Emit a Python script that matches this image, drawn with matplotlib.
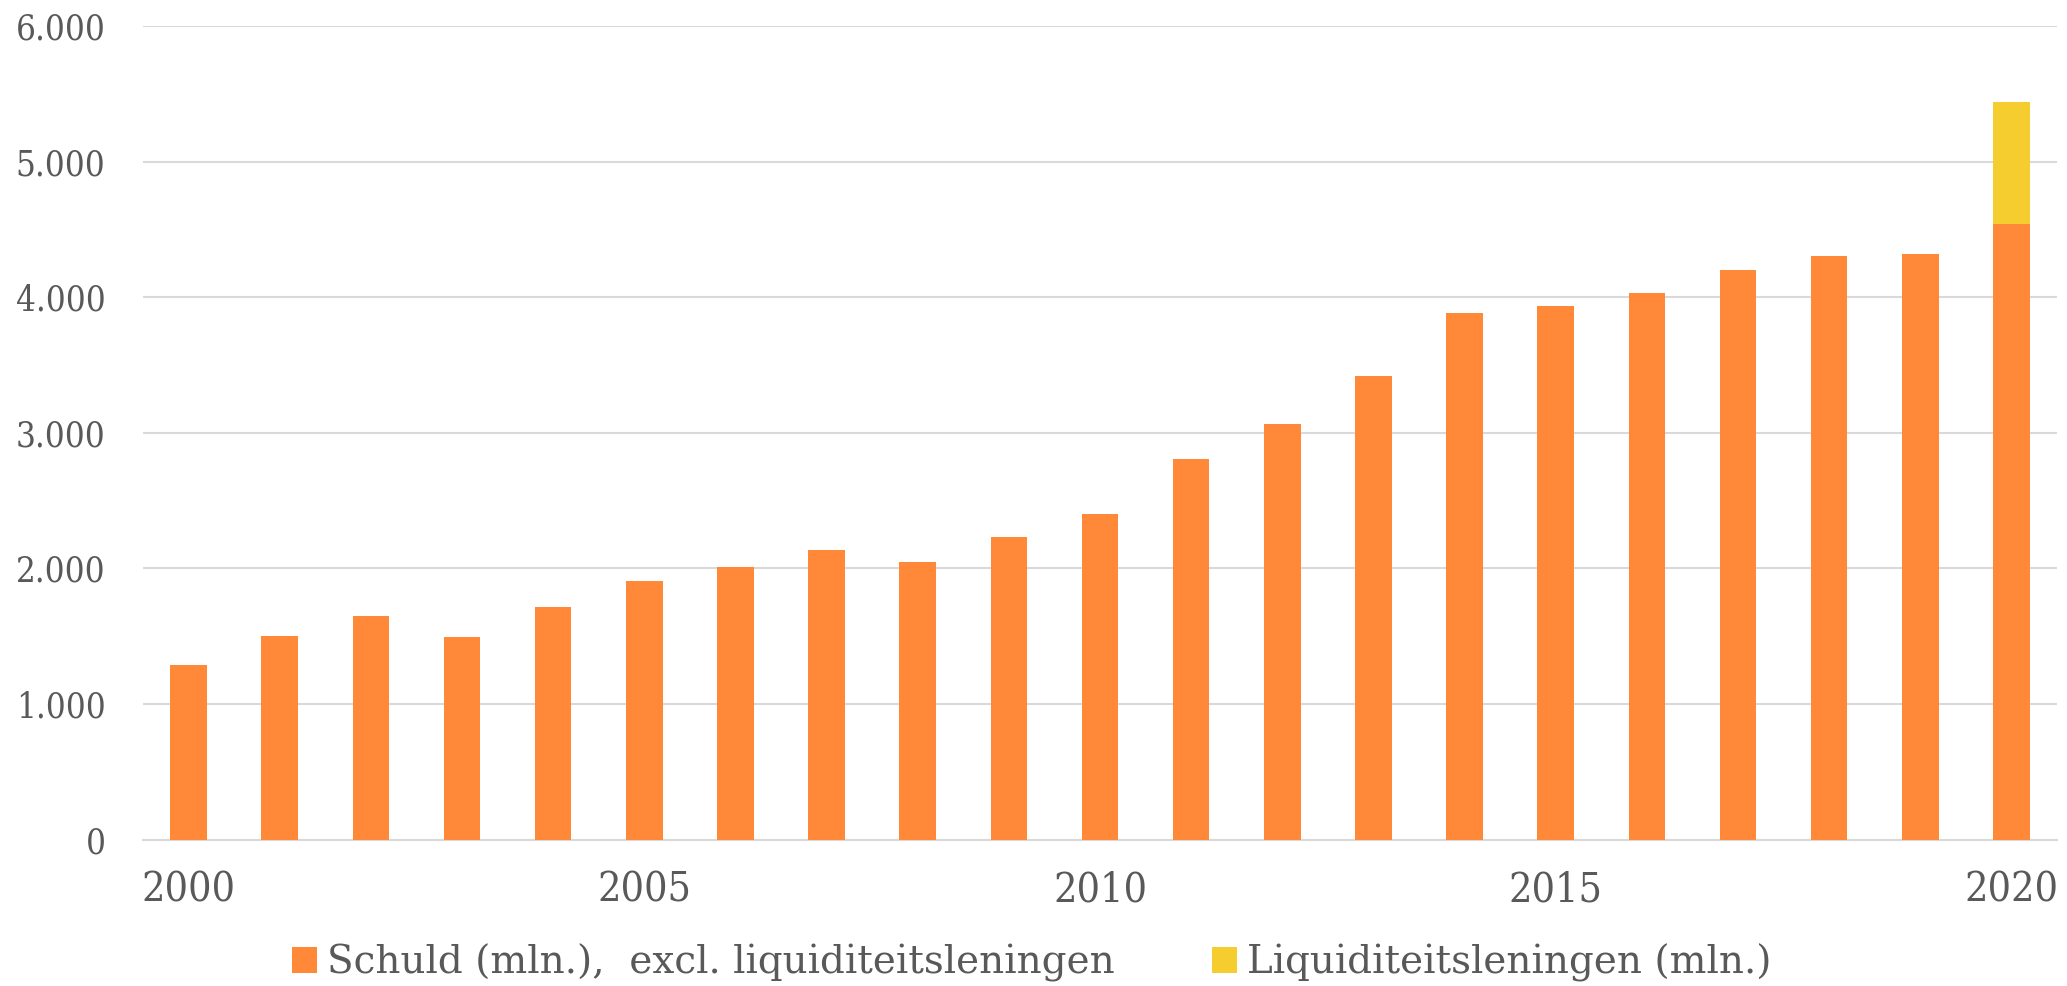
import matplotlib
matplotlib.use("Agg")
import matplotlib.pyplot as plt
import numpy as np

years = list(range(2000, 2021))
schuld = [1290, 1500, 1650, 1490, 1715, 1905, 2010, 2135, 2050, 2230,
          2400, 2805, 3065, 3420, 3885, 3935, 4030, 4200, 4305, 4320, 4540]
liquiditeit = [0] * 20 + [900]
tick_years = [2000, 2005, 2010, 2015, 2020]
yticks = [0, 1000, 2000, 3000, 4000, 5000, 6000]
ytick_labels = ["0", "1.000", "2.000", "3.000", "4.000", "5.000", "6.000"]
series_names = ["Schuld (mln.),  excl. liquiditeitsleningen", "Liquiditeitsleningen (mln.)"]

ORANGE = "#FF8939"
YELLOW = "#F5CD2F"
TEXT = "#595959"
GRID = "#D9D9D9"

plt.rcParams['font.family'] = ['DejaVu Serif']

fig = plt.figure(figsize=(20.67, 9.86), dpi=100)
ax = fig.add_axes([143/2067, 1-839.5/986, (2057-143)/2067, (839.5-26)/986])

x = np.arange(len(years))
ax.bar(x, schuld, width=0.4, color=ORANGE, label=series_names[0], zorder=3)
ax.bar(x, liquiditeit, width=0.4, bottom=schuld, color=YELLOW, label=series_names[1], zorder=3)

ax.set_xlim(-0.5, len(years) - 0.5)
ax.set_ylim(0, 6000)
ax.set_yticks(yticks)
ax.set_yticklabels(ytick_labels, fontsize=25, fontstretch='condensed', color=TEXT)
ax.set_xticks([years.index(y) for y in tick_years])
ax.set_xticklabels([str(y) for y in tick_years], fontsize=29.5, fontstretch='condensed', color=TEXT)
ax.tick_params(axis='both', length=0)
ax.tick_params(axis='y', pad=27)
ax.tick_params(axis='x', pad=22)
ax.yaxis.grid(True, color=GRID, linewidth=1.5, zorder=0)
for s in ['top', 'right', 'left']:
    ax.spines[s].set_visible(False)
ax.spines['bottom'].set_color(GRID)
ax.spines['bottom'].set_linewidth(1.5)

leg = fig.legend(loc='center', bbox_to_anchor=(1032/2067, 1-963/986), ncol=2, frameon=False,
                 fontsize=28, handlelength=0.64, handleheight=0.64, handletextpad=0.26,
                 columnspacing=2.5, labelcolor=TEXT)

fig.savefig("out.png", dpi=100, facecolor="white")
